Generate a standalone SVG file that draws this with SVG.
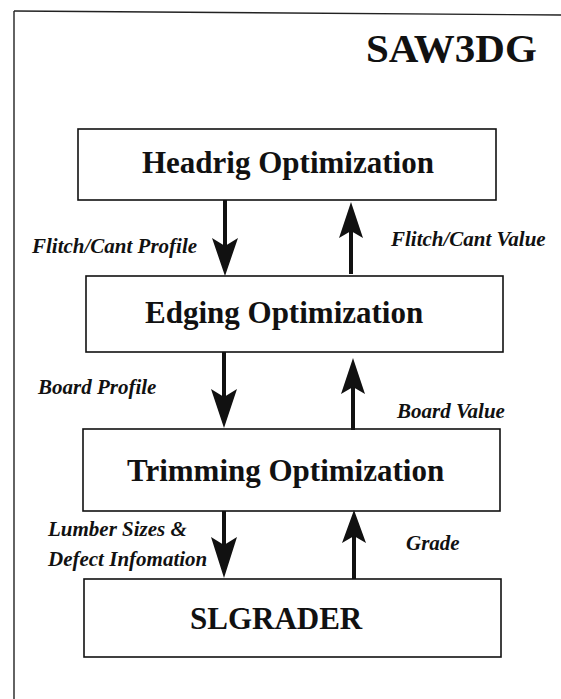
<svg xmlns="http://www.w3.org/2000/svg" width="561" height="699" viewBox="0 0 561 699">
<style>
.box{fill:#fff;stroke:#111;stroke-width:1.6}
.t{font-family:"Liberation Serif","Times New Roman",serif;font-weight:bold;font-size:31px;fill:#111}
.lbl{font-family:"Liberation Serif","Times New Roman",serif;font-weight:bold;font-style:italic;font-size:21px;fill:#111}
.shaft{stroke:#111;stroke-width:4;fill:none}
.head{fill:#111;stroke:none}
.frame{stroke:#222;stroke-width:1.4;fill:none}
</style>
<rect width="561" height="699" fill="#fff"/>
<g id="frame">
<line class="frame" x1="14" y1="11" x2="14" y2="699"/>
<line class="frame" x1="14" y1="11" x2="561" y2="15"/>
</g>
<text id="title" x="366" y="62" font-family="Liberation Serif, serif" font-weight="bold" font-size="41" fill="#111">SAW3DG</text>
<g id="headrig">
<rect class="box" x="78" y="129" width="418" height="71"/>
<text class="t" x="142" y="173">Headrig Optimization</text>
</g>
<g id="edging">
<rect class="box" x="86" y="276" width="417" height="76"/>
<text class="t" x="145" y="323">Edging Optimization</text>
</g>
<g id="trimming">
<rect class="box" x="83" y="429" width="417" height="82"/>
<text class="t" x="127" y="481">Trimming Optimization</text>
</g>
<g id="slgrader">
<rect class="box" x="84" y="579" width="417" height="78"/>
<text class="t" x="190" y="629">SLGRADER</text>
</g>
<g id="connectors">
<line class="shaft" x1="225" y1="200" x2="225" y2="248"/>
<path class="head" d="M225,276 L212,238 L225,246 L238,238 Z"/>
<line class="shaft" x1="351" y1="274" x2="351" y2="230"/>
<path class="head" d="M351,202 L339,238 L351,231 L363,238 Z"/>
<line class="shaft" x1="224" y1="352" x2="224" y2="400"/>
<path class="head" d="M224,428 L211,389 L224,397 L237,389 Z"/>
<line class="shaft" x1="353" y1="430" x2="353" y2="386"/>
<path class="head" d="M353,358 L341,394 L353,387 L365,394 Z"/>
<line class="shaft" x1="224" y1="511" x2="224" y2="550"/>
<path class="head" d="M224,578 L211,537 L224,545 L237,537 Z"/>
<line class="shaft" x1="354" y1="579" x2="354" y2="535"/>
<path class="head" d="M354,510 L342,543 L354,536 L366,543 Z"/>
</g>
<g id="labels">
<text class="lbl" x="32" y="253">Flitch/Cant Profile</text>
<text class="lbl" x="391" y="246">Flitch/Cant Value</text>
<text class="lbl" x="38" y="394">Board Profile</text>
<text class="lbl" x="397" y="418">Board Value</text>
<text class="lbl" x="48" y="536">Lumber Sizes &amp;</text>
<text class="lbl" x="48" y="566">Defect Infomation</text>
<text class="lbl" x="406" y="550">Grade</text>
</g>
</svg>
